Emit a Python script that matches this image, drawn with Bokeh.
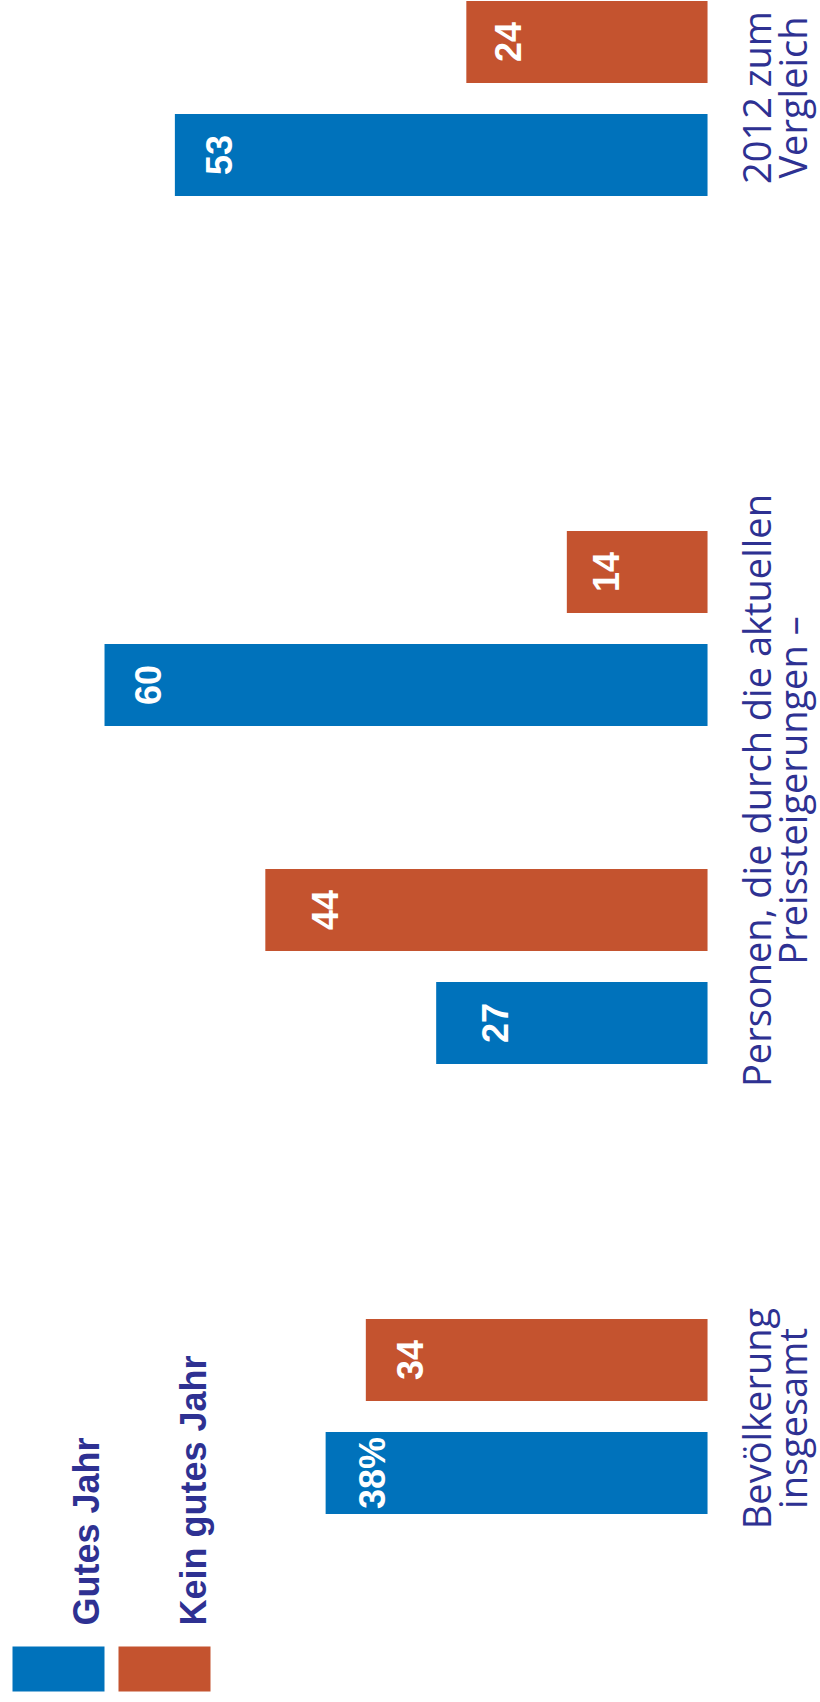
from math import pi
from bokeh.plotting import figure
from bokeh.models import Range1d, ColumnDataSource
from bokeh.core.properties import value
from bokeh.embed import file_html
from bokeh.resources import INLINE

# ---------------- data ----------------
groups = ["Bevölkerung insgesamt", "Preissteigerungen A", "Preissteigerungen B", "2012 zum Vergleich"]
gutes_jahr = [38, 27, 60, 53]
kein_gutes_jahr = [34, 44, 14, 24]
gutes_labels = ["38%", "27", "60", "53"]
kein_labels = ["34", "44", "14", "24"]
series_names = ["Gutes Jahr", "Kein gutes Jahr"]
category_lines = [
    ["Bevölkerung", "insgesamt"],
    ["Personen, die durch die aktuellen", "Preissteigerungen –"],
    ["2012 zum", "Vergleich"],
]

# ---------------- layout (pixel slots) ----------------
W, H = 820, 1702
slot_center = [1416, 966, 628, 98]       # centre of each pair of bars (page px)
pair_offset = 56.5
bar_thickness = 82
label_pad_gutes = [35, 47, 31, 32]
label_pad_kein = [32, 48, 27, 30]
cat_label_y = [1418, 790, 97]
BLUE = "#0072BB"
ORANGE = "#C4532F"
NAVY = "#2E3192"

p = figure(width=W, height=H, output_backend="svg", toolbar_location=None,
           x_range=Range1d(70.35, -11.24), y_range=Range1d(H, 0),
           min_border=0, min_border_left=0, min_border_right=0,
           min_border_top=0, min_border_bottom=0)
p.extra_x_ranges = {"px": Range1d(0, W)}
p.axis.visible = False
p.grid.visible = False
p.outline_line_color = None
p.background_fill_color = "white"
p.border_fill_color = "white"

y_gutes = [c + pair_offset for c in slot_center]
y_kein = [c - pair_offset for c in slot_center]

src_g = ColumnDataSource(dict(y=y_gutes, v=gutes_jahr))
src_k = ColumnDataSource(dict(y=y_kein, v=kein_gutes_jahr))

p.hbar(y="y", left=0, right="v", height=bar_thickness, source=src_g,
       fill_color=BLUE, line_color=None)
p.hbar(y="y", left=0, right="v", height=bar_thickness, source=src_k,
       fill_color=ORANGE, line_color=None)

# value labels (rotated, near the bar end)
for ys, vs, labs, pads in ((y_gutes, gutes_jahr, gutes_labels, label_pad_gutes),
                           (y_kein, kein_gutes_jahr, kein_labels, label_pad_kein)):
    for yy, vv, ll, pp in zip(ys, vs, labs, pads):
        p.text(x=[vv], y=[yy], text=[ll], angle=pi / 2, x_offset=pp + 12,
               text_align="center", text_baseline="alphabetic",
               text_color="white", text_font=value("Liberation Sans"),
               text_font_style="bold", text_font_size="36px")

# category labels (two lines each, rotated)
for lines, cy in zip(category_lines, cat_label_y):
    for i, line in enumerate(lines):
        p.text(x=[0], y=[cy], text=[line], angle=pi / 2, x_offset=48 + 36 * i,
               text_align="center", text_baseline="alphabetic",
               text_color=NAVY, text_font=value("Open Sans"),
               text_font_size="38px")

# legend
p.quad(left=[12, 118], right=[104, 210], top=[1646, 1646], bottom=[1691, 1691],
       fill_color=[BLUE, ORANGE], line_color=None, x_range_name="px")
p.text(x=[86, 193], y=[1625, 1625], text=series_names, angle=pi / 2,
       text_align="left", text_baseline="alphabetic", text_color=NAVY,
       text_font=value("Liberation Sans"), text_font_style="bold",
       text_font_size="36px", x_range_name="px")

open("out.html", "w").write(file_html(p, INLINE))
